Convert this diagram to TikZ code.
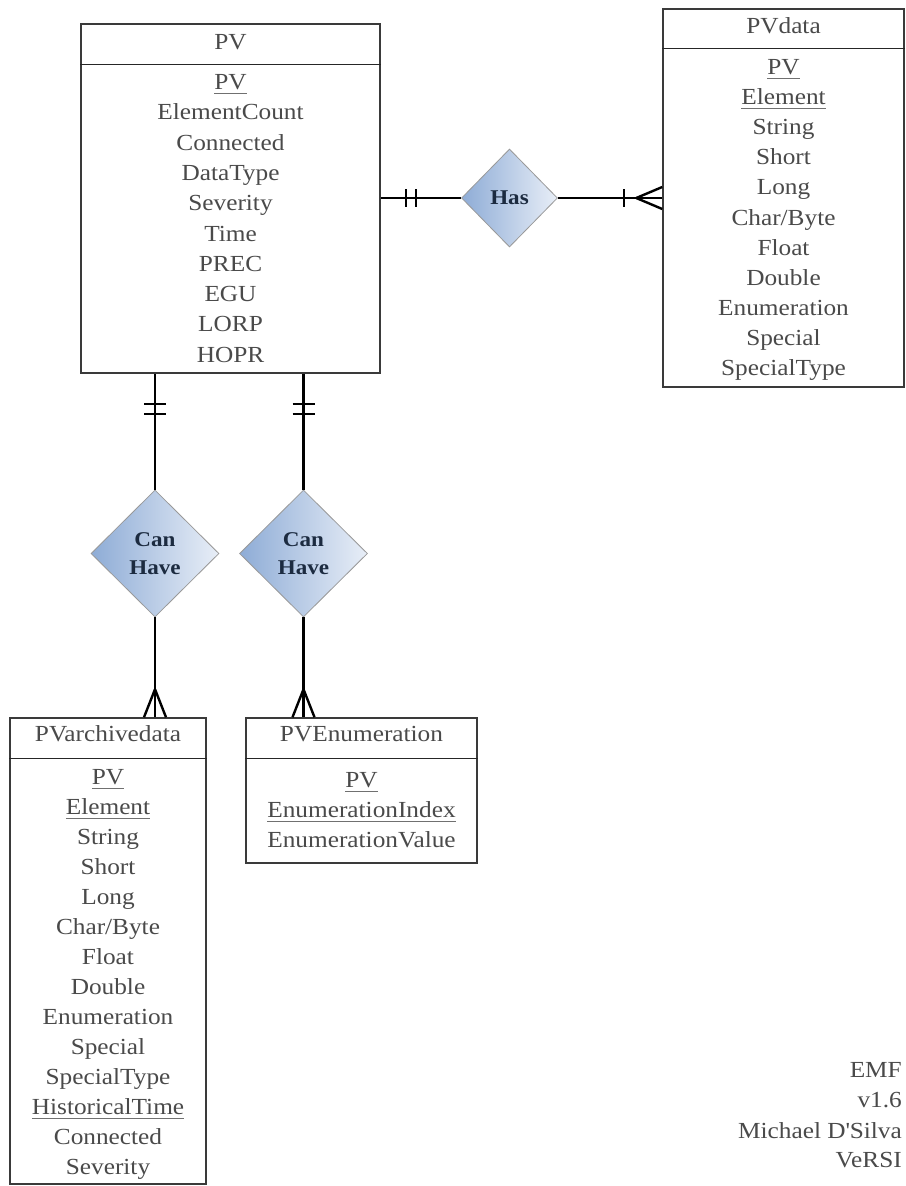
\documentclass[tikz,border=0pt]{standalone}
\usepackage{fontspec}
\setmainfont{Liberation Serif}[FakeStretch=1.1]
\usetikzlibrary{shapes.geometric,calc}
\definecolor{txt}{HTML}{4A4A4A}
\definecolor{edge}{HTML}{3A3A3A}
\definecolor{ulc}{HTML}{707070}
\definecolor{dl}{HTML}{8EACD6}
\definecolor{dr}{HTML}{E8EEF7}
\definecolor{dtxt}{HTML}{1C2B40}
\newcommand\keyu[1]{\setbox0\hbox{#1}\leavevmode\rlap{\raisebox{-4.5pt}{\textcolor{ulc}{\rule{\wd0}{1.3pt}}}}\box0}
\begin{document}
\begin{tikzpicture}[x=1pt,y=-1pt,
  entity/.style={draw=edge, line width=1.5pt, rectangle, inner sep=0pt},
  sepline/.style={draw=black!85, line width=1.5pt},
  row/.style={text=txt, font=\fontsize{23}{28}\selectfont, text height=16pt, text depth=5pt, inner sep=0pt},
  rel/.style={diamond, draw=gray!80, line width=0.8pt, shading=axis, left color=dl, right color=dr, inner sep=0pt, font=\fontsize{21}{28}\selectfont\bfseries, text=dtxt, align=center},
  conn/.style={draw=black, line width=2.4pt}]
\useasboundingbox (0,0) rectangle (905,1186);
\fill[white] (0,0) rectangle (905,1186);

% ---------- PV ----------
\node[entity, minimum width=299pt, minimum height=349pt] (pv) at (230.5,198.5) {};
\draw[sepline] ([yshift=-41pt]pv.north west) -- ([yshift=-41pt]pv.north east);
\node[row] (pvt) at (230.5,44) {PV};
\foreach \t [count=\i from 0] in {\keyu{PV},ElementCount,Connected,DataType,Severity,Time,PREC,EGU,LORP,HOPR}
  \node[row] (pvr\i) at (230.5,{84+30.3*\i}) {\t};

% ---------- PVdata ----------
\node[entity, minimum width=241pt, minimum height=378pt] (pvd) at (783.5,198) {};
\draw[sepline] ([yshift=-40pt]pvd.north west) -- ([yshift=-40pt]pvd.north east);
\node[row] (pvdt) at (783.5,28) {PVdata};
\foreach \t [count=\i from 0] in {\keyu{PV},\keyu{Element},String,Short,Long,Char/Byte,Float,Double,Enumeration,Special,SpecialType}
  \node[row] (pvdr\i) at (783.5,{69+30.1*\i}) {\t};

% ---------- PVarchivedata ----------
\node[entity, minimum width=196pt, minimum height=466pt] (arch) at (108,951) {};
\draw[sepline] ([yshift=-41pt]arch.north west) -- ([yshift=-41pt]arch.north east);
\node[row] (archt) at (108,736) {PVarchivedata};
\foreach \t [count=\i from 0] in {\keyu{PV},\keyu{Element},String,Short,Long,Char/Byte,Float,Double,Enumeration,Special,SpecialType,\keyu{HistoricalTime},Connected,Severity}
  \node[row] (archr\i) at (108,{779+30*\i}) {\t};

% ---------- PVEnumeration ----------
\node[entity, minimum width=231pt, minimum height=145pt] (enum) at (361.5,790.5) {};
\draw[sepline] ([yshift=-41pt]enum.north west) -- ([yshift=-41pt]enum.north east);
\node[row] (enumt) at (361.5,736) {PVEnumeration};
\foreach \t [count=\i from 0] in {\keyu{PV},\keyu{EnumerationIndex},EnumerationValue}
  \node[row] (enumr\i) at (361.5,{782+30*\i}) {\t};

% ---------- relationships ----------
\node[rel, minimum width=96pt, minimum height=98pt] (has) at (509.5,198) {Has};
\node[rel, minimum width=128pt, minimum height=127pt] (ch1) at (155,553.5) {Can\\Have};
\node[rel, minimum width=128pt, minimum height=127pt] (ch2) at (303.5,553.5) {Can\\Have};

% ---------- connectors ----------
\coordinate (hl) at (pv.east |- has);
\coordinate (hr) at (pvd.west |- has);
\draw[conn] (hl) -- (has.west);
\draw[conn] (has.east) -- (hr);
\draw[conn] ($(hl)+(25,-9)$) -- ++(0,18);
\draw[conn] ($(hl)+(35,-9)$) -- ++(0,18);
\draw[conn] ($(hr)+(-38,-9)$) -- ++(0,18);
\draw[conn] ($(hr)+(-26,0)$) -- ($(hr)+(0,-11)$);
\draw[conn] ($(hr)+(-26,0)$) -- ($(hr)+(0,11)$);

\foreach \d/\e [count=\k] in {ch1/arch, ch2/enum} {
  \coordinate (top\k) at (pv.south -| \d);
  \coordinate (bot\k) at (\e.north -| \d);
  \draw[conn] (top\k) -- (\d.north);
  \draw[conn] (\d.south) -- (bot\k);
  \draw[conn] ($(top\k)+(-11,30)$) -- ++(22,0);
  \draw[conn] ($(top\k)+(-11,40)$) -- ++(22,0);
  \draw[conn] ($(bot\k)+(0,-28)$) -- ($(bot\k)+(-11,0)$);
  \draw[conn] ($(bot\k)+(0,-28)$) -- ($(bot\k)+(11,0)$);
}

% ---------- signature ----------
\foreach \t/\y [count=\i] in {EMF/1072,v1.6/1102,Michael D\textquotesingle Silva/1133,VeRSI/1162}
  \node[row, anchor=east] (sig\i) at (902,\y) {\t};
\end{tikzpicture}
\end{document}
